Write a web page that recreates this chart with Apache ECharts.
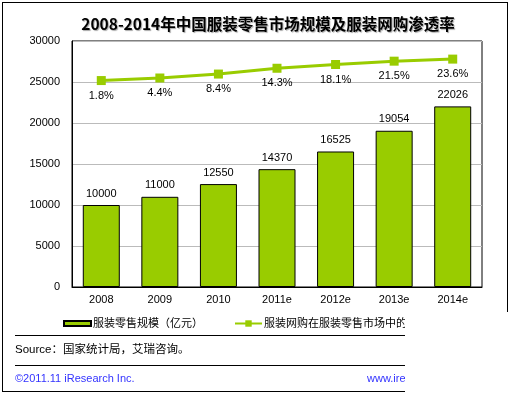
<!DOCTYPE html>
<html>
<head>
<meta charset="utf-8">
<script src="https://cdn.jsdelivr.net/npm/echarts@6/dist/echarts.min.js"></script>
<style>
html,body{margin:0;padding:0;background:#fff;}
#c{width:510px;height:394px;}
</style>
</head>
<body>
<div id="c"></div>
<script>
const categories = ['2008', '2009', '2010', '2011e', '2012e', '2013e', '2014e'];
const retailScale = [10000, 11000, 12550, 14370, 16525, 19054, 22026];
const onlineRate = [1.8, 4.4, 8.4, 14.3, 18.1, 21.5, 23.6];
const yTicks = [0, 5000, 10000, 15000, 20000, 25000, 30000];
const titleText = '2008-2014年中国服装零售市场规模及服装网购渗透率';
const barName = '服装零售规模（亿元）';
const lineName = '服装网购在服装零售市场中的渗透率';
const sourceText = 'Source：国家统计局，艾瑞咨询。';
const copyrightText = '©2011.11 iResearch Inc.';
const siteText = 'www.iresearch.com.cn';

const FONT = '"Liberation Sans", "Noto Sans CJK SC", sans-serif';
const GREEN = '#99CC00';

const chart = echarts.init(document.getElementById('c'), null, {renderer: 'canvas'});
chart.setOption({
  animation: false,
  backgroundColor: '#fff',
  textStyle: {fontFamily: FONT},
  title: {
    text: titleText,
    left: 263,
    top: 11,
    textAlign: 'center',
    textStyle: {
      fontFamily: '"Noto Sans CJK SC", sans-serif',
      fontSize: 15.5,
      fontWeight: 'bold',
      color: '#000',
      textShadowColor: 'rgba(0,0,0,0.35)',
      textShadowBlur: 1,
      textShadowOffsetX: 1,
      textShadowOffsetY: 1
    }
  },
  grid: {
    left: 72, right: 28, top: 41, bottom: 107,
    show: true, borderColor: '#000', borderWidth: 1, backgroundColor: '#fff'
  },
  legend: [
    {
      data: [{name: barName, icon: 'rect'}], left: 58, top: 313, itemWidth: 27, itemHeight: 5, itemGap: 0,
      textStyle: {fontFamily: FONT, fontSize: 11, color: '#000', padding: [0, 0, 0, -3]}
    },
    {
      data: [lineName], left: 229, top: 313, itemWidth: 27, itemHeight: 8, itemGap: 0,
      textStyle: {fontFamily: FONT, fontSize: 11, color: '#000', padding: [0, 0, 0, -3]}
    }
  ],
  xAxis: {
    type: 'category',
    data: categories,
    axisLine: {show: true, lineStyle: {color: '#000', width: 1}},
    axisTick: {show: false},
    axisLabel: {color: '#000', fontSize: 11, fontFamily: FONT, margin: 7}
  },
  yAxis: [
    {
      type: 'value', min: yTicks[0], max: yTicks[yTicks.length - 1], interval: 5000,
      axisLine: {show: true, lineStyle: {color: '#000', width: 1}},
      axisTick: {show: false},
      axisLabel: {color: '#000', fontSize: 11, fontFamily: FONT, margin: 12, formatter: v => String(v)},
      splitLine: {show: true, lineStyle: {color: '#BBBBBB', width: 1}}
    },
    {
      type: 'value', min: -208, max: 42, show: false,
      splitLine: {show: false}
    }
  ],
  series: [
    {
      name: barName,
      type: 'bar',
      data: retailScale,
      barWidth: 37,
      itemStyle: {color: GREEN, borderColor: '#000', borderWidth: 1},
      label: {show: true, position: 'top', distance: 6, color: '#000', fontSize: 11, fontFamily: FONT}
    },
    {
      name: lineName,
      type: 'line',
      yAxisIndex: 1,
      data: onlineRate,
      symbol: 'rect',
      symbolSize: 9,
      itemStyle: {color: GREEN},
      lineStyle: {color: GREEN, width: 3},
      label: {
        show: true, position: 'bottom', distance: 5, color: '#000', fontSize: 11, fontFamily: FONT,
        formatter: p => p.value + '%'
      },
      z: 5
    }
  ],
  graphic: [
    {type: 'line', z: 100, shape: {x1: 15, y1: 335.5, x2: 405, y2: 335.5}, style: {stroke: '#000', lineWidth: 1}},
    {type: 'line', z: 100, shape: {x1: 15, y1: 365.5, x2: 405, y2: 365.5}, style: {stroke: '#000', lineWidth: 1}},
    {type: 'text', z: 100, left: 15, top: 344, style: {text: sourceText, font: '11.5px ' + FONT, fill: '#000'}},
    {type: 'text', z: 100, left: 15, top: 373, style: {text: copyrightText, font: '11px ' + FONT, fill: '#3333FF'}},
    {type: 'text', z: 100, left: 367, top: 373, style: {text: siteText, font: '11px ' + FONT, fill: '#3333FF'}},
    {type: 'rect', z: 200, shape: {x: 405, y: 312, width: 105, height: 82}, style: {fill: '#fff'}},
    {type: 'line', z: 210, shape: {x1: 2.5, y1: 2, x2: 2.5, y2: 392}, style: {stroke: '#000', lineWidth: 1}},
    {type: 'line', z: 210, shape: {x1: 2, y1: 2.5, x2: 508, y2: 2.5}, style: {stroke: '#000', lineWidth: 1}},
    {type: 'line', z: 210, shape: {x1: 507.5, y1: 2, x2: 507.5, y2: 312}, style: {stroke: '#000', lineWidth: 1}},
    {type: 'line', z: 210, shape: {x1: 2, y1: 391.5, x2: 405, y2: 391.5}, style: {stroke: '#000', lineWidth: 1}}
  ]
});
</script>
</body>
</html>
